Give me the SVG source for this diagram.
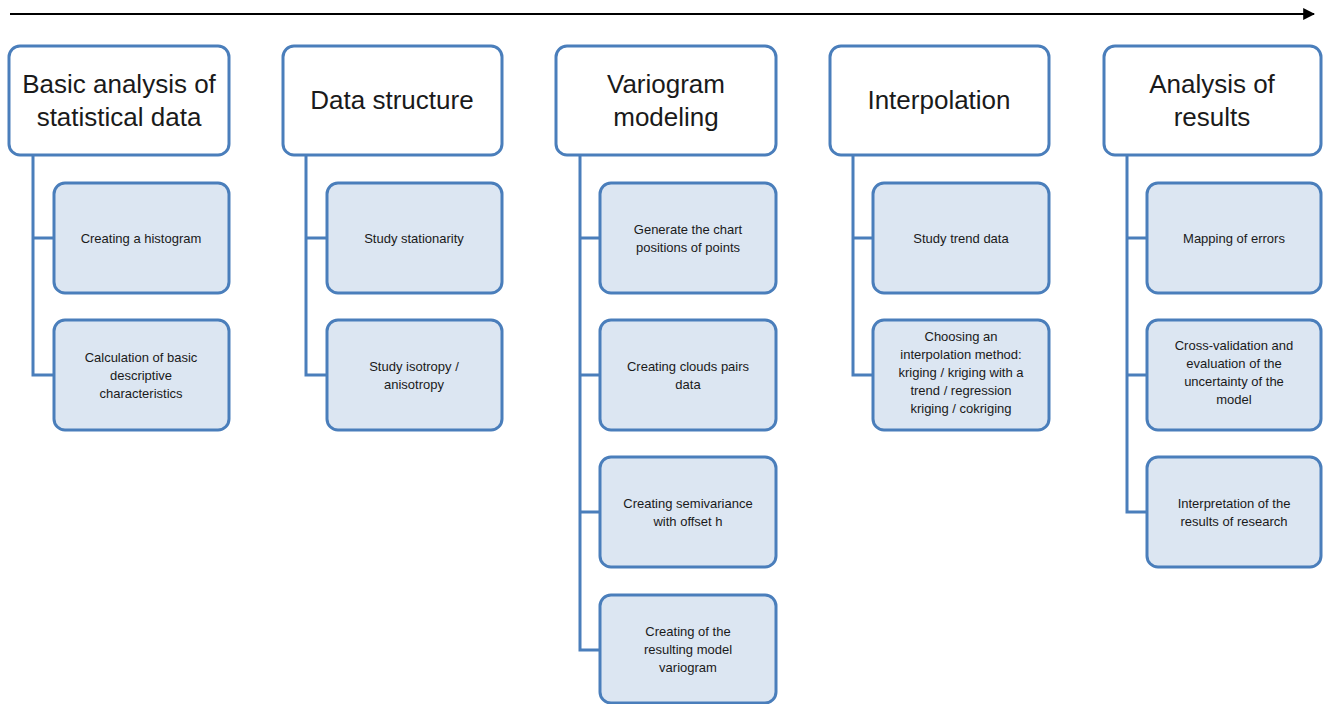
<svg xmlns="http://www.w3.org/2000/svg" width="1323" height="704" viewBox="0 0 1323 704">
<defs>
<style>
.h{fill:#fff;stroke:#4a7ebb;stroke-width:3}
.c{fill:#dce6f2;stroke:#4a7ebb;stroke-width:3}
.ht{font-family:"Liberation Sans",Arial,sans-serif;font-size:26px;fill:#1a1a1a;text-anchor:middle}
.ct{font-family:"Liberation Sans",Arial,sans-serif;font-size:13px;fill:#1a1a1a;text-anchor:middle}
.l{fill:none;stroke:#4a7ebb;stroke-width:3}
</style>
<marker id="ar" viewBox="0 0 10 10" refX="9" refY="5" markerWidth="12" markerHeight="12" markerUnits="userSpaceOnUse" orient="auto"><path d="M0,0 L10,5 L0,10 z" fill="#000"/></marker>
</defs>
<rect width="1323" height="704" fill="#fff"/>
<g id="connectors">
<line x1="10" y1="14" x2="1314" y2="14" stroke="#000" stroke-width="2" marker-end="url(#ar)"/>
<path class="l" d="M33,155 V375 H54 M33,238 H54"/>
<path class="l" d="M306,155 V375 H327 M306,238 H327"/>
<path class="l" d="M580,155 V650 H600 M580,238 H600 M580,375 H600 M580,512 H600"/>
<path class="l" d="M853,155 V375 H873 M853,238 H873"/>
<path class="l" d="M1127,155 V512 H1147 M1127,238 H1147 M1127,375 H1147"/>
</g>
<g id="h1"><rect class="h" x="9" y="46" width="220" height="109" rx="11"/><text class="ht" x="119" y="93">Basic analysis of</text><text class="ht" x="119" y="126">statistical data</text></g>
<g id="h2"><rect class="h" x="283" y="46" width="219" height="109" rx="11"/><text class="ht" x="392" y="109">Data structure</text></g>
<g id="h3"><rect class="h" x="556" y="46" width="220" height="109" rx="11"/><text class="ht" x="666" y="93">Variogram</text><text class="ht" x="666" y="126">modeling</text></g>
<g id="h4"><rect class="h" x="830" y="46" width="219" height="109" rx="11"/><text class="ht" x="939" y="109">Interpolation</text></g>
<g id="h5"><rect class="h" x="1104" y="46" width="217" height="109" rx="11"/><text class="ht" x="1212" y="93">Analysis of</text><text class="ht" x="1212" y="126">results</text></g>

<g id="c1a"><rect class="c" x="54" y="183" width="175" height="110" rx="11"/><text class="ct" x="141" y="243">Creating a histogram</text></g>
<g id="c1b"><rect class="c" x="54" y="320" width="175" height="110" rx="11"/><text class="ct" x="141" y="362">Calculation of basic</text><text class="ct" x="141" y="380">descriptive</text><text class="ct" x="141" y="398">characteristics</text></g>

<g id="c2a"><rect class="c" x="327" y="183" width="175" height="110" rx="11"/><text class="ct" x="414" y="243">Study stationarity</text></g>
<g id="c2b"><rect class="c" x="327" y="320" width="175" height="110" rx="11"/><text class="ct" x="414" y="371">Study isotropy /</text><text class="ct" x="414" y="389">anisotropy</text></g>

<g id="c3a"><rect class="c" x="600" y="183" width="176" height="110" rx="11"/><text class="ct" x="688" y="234">Generate the chart</text><text class="ct" x="688" y="252">positions of points</text></g>
<g id="c3b"><rect class="c" x="600" y="320" width="176" height="110" rx="11"/><text class="ct" x="688" y="371">Creating clouds pairs</text><text class="ct" x="688" y="389">data</text></g>
<g id="c3c"><rect class="c" x="600" y="457" width="176" height="110" rx="11"/><text class="ct" x="688" y="508">Creating semivariance</text><text class="ct" x="688" y="526">with offset h</text></g>
<g id="c3d"><rect class="c" x="600" y="595" width="176" height="108" rx="11"/><text class="ct" x="688" y="636">Creating of the</text><text class="ct" x="688" y="654">resulting model</text><text class="ct" x="688" y="672">variogram</text></g>

<g id="c4a"><rect class="c" x="873" y="183" width="176" height="110" rx="11"/><text class="ct" x="961" y="243">Study trend data</text></g>
<g id="c4b"><rect class="c" x="873" y="320" width="176" height="110" rx="11"/><text class="ct" x="961" y="341">Choosing an</text><text class="ct" x="961" y="359">interpolation method:</text><text class="ct" x="961" y="377">kriging / kriging with a</text><text class="ct" x="961" y="395">trend / regression</text><text class="ct" x="961" y="413">kriging / cokriging</text></g>

<g id="c5a"><rect class="c" x="1147" y="183" width="174" height="110" rx="11"/><text class="ct" x="1234" y="243">Mapping of errors</text></g>
<g id="c5b"><rect class="c" x="1147" y="320" width="174" height="110" rx="11"/><text class="ct" x="1234" y="350">Cross-validation and</text><text class="ct" x="1234" y="368">evaluation of the</text><text class="ct" x="1234" y="386">uncertainty of the</text><text class="ct" x="1234" y="404">model</text></g>
<g id="c5c"><rect class="c" x="1147" y="457" width="174" height="110" rx="11"/><text class="ct" x="1234" y="508">Interpretation of the</text><text class="ct" x="1234" y="526">results of research</text></g>
</svg>
